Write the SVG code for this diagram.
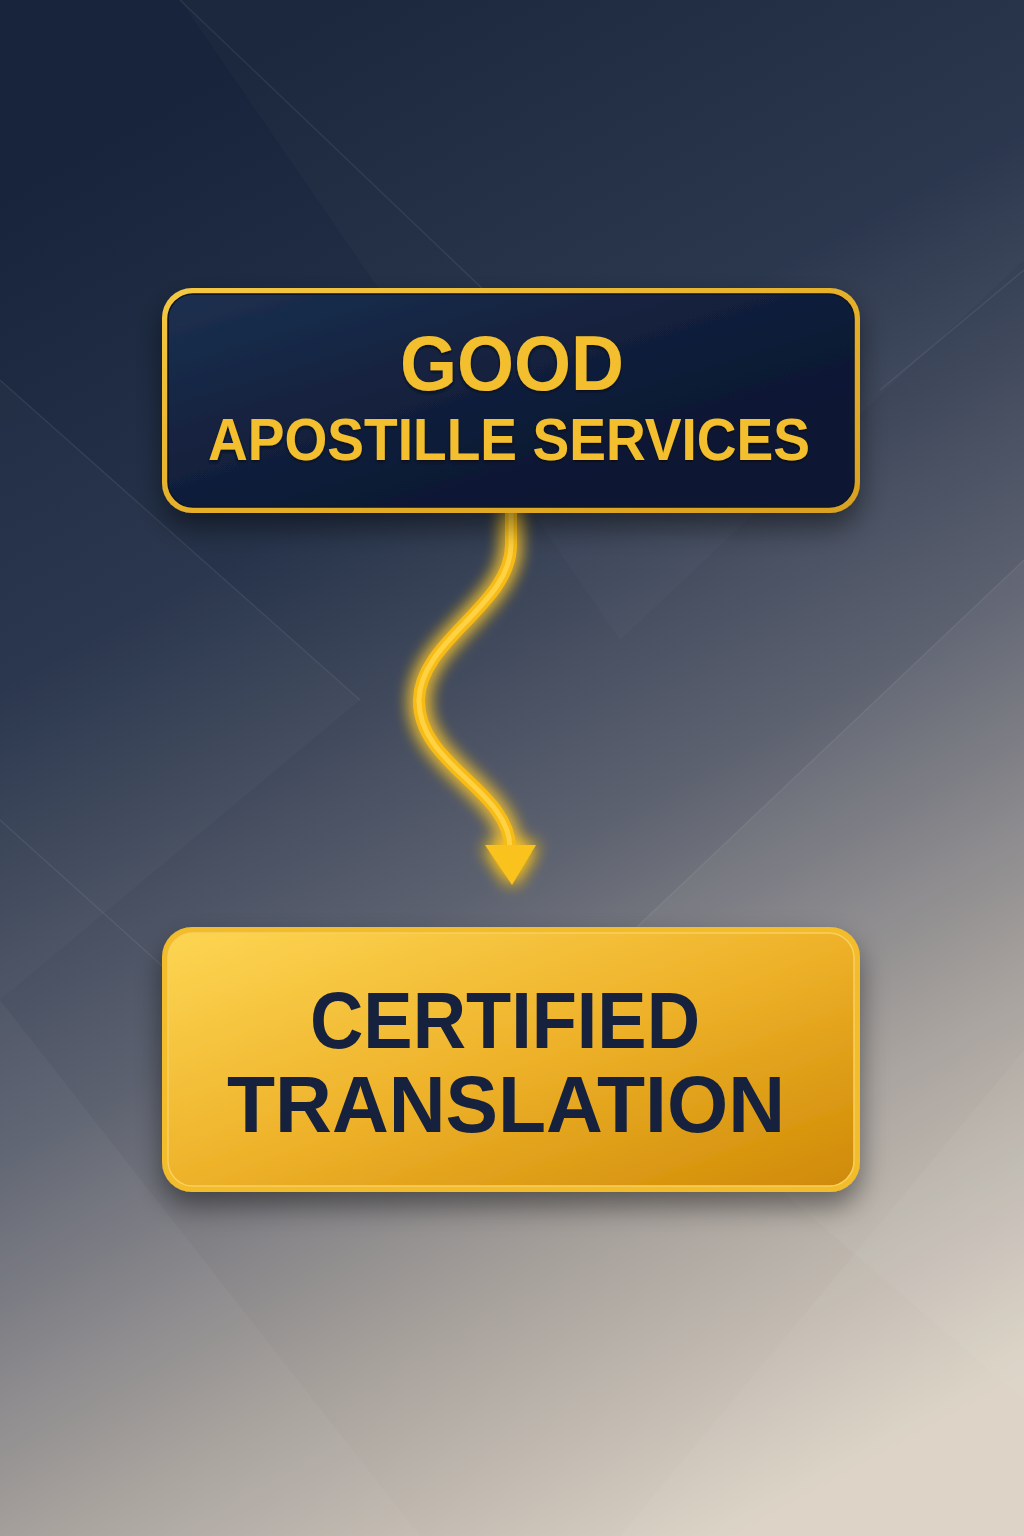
<svg xmlns="http://www.w3.org/2000/svg" width="1024" height="1536" viewBox="0 0 1024 1536">
  <defs>
    <linearGradient id="bg" x1="0.35" y1="0" x2="0.72" y2="1">
      <stop offset="0" stop-color="#17243b"/>
      <stop offset="0.28" stop-color="#26334a"/>
      <stop offset="0.55" stop-color="#5d6270"/>
      <stop offset="0.78" stop-color="#a6a09b"/>
      <stop offset="1" stop-color="#dcd3c5"/>
    </linearGradient>
    <linearGradient id="navyFill" x1="0" y1="0" x2="1" y2="1">
      <stop offset="0" stop-color="#1c304f"/>
      <stop offset="0.6" stop-color="#0e1a35"/>
      <stop offset="1" stop-color="#0a1430"/>
    </linearGradient>
    <linearGradient id="goldBorder" x1="0" y1="0" x2="1" y2="1">
      <stop offset="0" stop-color="#f5c842"/>
      <stop offset="0.5" stop-color="#e6b02a"/>
      <stop offset="1" stop-color="#d9a020"/>
    </linearGradient>
    <linearGradient id="goldFill" x1="0" y1="0" x2="1" y2="1">
      <stop offset="0" stop-color="#fdd552"/>
      <stop offset="0.5" stop-color="#eeb22a"/>
      <stop offset="1" stop-color="#cf8a06"/>
    </linearGradient>
    <filter id="shadow" x="-20%" y="-20%" width="140%" height="150%">
      <feDropShadow dx="0" dy="14" stdDeviation="14" flood-color="#000000" flood-opacity="0.45"/>
    </filter>
    <filter id="glow" x="-60%" y="-20%" width="220%" height="140%">
      <feGaussianBlur in="SourceGraphic" stdDeviation="9" result="b"/>
      <feMerge>
        <feMergeNode in="b"/>
        <feMergeNode in="b"/>
        <feMergeNode in="SourceGraphic"/>
      </feMerge>
    </filter>
    <filter id="textShadow" x="-10%" y="-20%" width="120%" height="150%">
      <feDropShadow dx="0" dy="2" stdDeviation="1.5" flood-color="#000000" flood-opacity="0.5"/>
    </filter>
    <style>
      .title { font-family: "Liberation Sans", Arial, sans-serif; font-weight: bold; text-anchor: middle; }
      .goldText { fill: #f4bf2e; }
      .navyText { fill: #14213d; }
    </style>
  </defs>

  <!-- background -->
  <rect x="0" y="0" width="1024" height="1536" fill="url(#bg)"/>
  <g fill="#ffffff">
    <polygon points="180,0 1024,0 1024,260 620,640" opacity="0.02"/>
    <polygon points="0,380 360,700 0,1000" opacity="0.025"/>
    <polygon points="1024,560 560,1000 1024,1400" opacity="0.045"/>
    <polygon points="0,1000 420,1536 0,1536" opacity="0.035"/>
    <polygon points="1024,1050 620,1536 1024,1536" opacity="0.045"/>
  </g>
  <g stroke="#ffffff" stroke-width="1.5" fill="none" opacity="0.07">
    <line x1="180" y1="0" x2="620" y2="420"/>
    <line x1="0" y1="380" x2="360" y2="700"/>
    <line x1="1024" y1="270" x2="880" y2="390"/>
    <line x1="1024" y1="560" x2="560" y2="1000"/>
    <line x1="0" y1="820" x2="200" y2="1000"/>
  </g>

  <!-- connectors -->
  <g id="connectors">
    <g filter="url(#glow)">
      <path d="M511,513 L511,545 C511,605 420,640 419,700 C418,765 510,790 510,848" fill="none" stroke="#f7bb18" stroke-width="12" stroke-linecap="round"/>
      <path d="M511,513 L511,545 C511,605 420,640 419,700 C418,765 510,790 510,848" fill="none" stroke="#ffd84f" stroke-width="5" stroke-linecap="round" opacity="0.8"/>
      <polygon points="485,845 536,845 512,885" fill="#f9c21e"/>
    </g>
  </g>

  <!-- node: Good Apostille Services -->
  <g id="node-apostille" filter="url(#shadow)">
    <rect x="162" y="288" width="698" height="225" rx="30" ry="30" fill="url(#goldBorder)"/>
    <rect x="168" y="294" width="686" height="213" rx="25" ry="25" fill="url(#navyFill)"/>
    <rect x="168" y="294" width="686" height="213" rx="25" ry="25" fill="none" stroke="#0a1226" stroke-width="1.5"/>
    <g filter="url(#textShadow)">
      <text class="title goldText" x="512" y="390" font-size="77" textLength="224" lengthAdjust="spacingAndGlyphs">GOOD</text>
      <text class="title goldText" x="509" y="460" font-size="60" textLength="602" lengthAdjust="spacingAndGlyphs">APOSTILLE SERVICES</text>
    </g>
  </g>

  <!-- node: Certified Translation -->
  <g id="node-translation" filter="url(#shadow)">
    <rect x="162" y="927" width="698" height="265" rx="30" ry="30" fill="#f2bc2a"/>
    <rect x="168" y="933" width="686" height="253" rx="25" ry="25" fill="url(#goldFill)" stroke="#f9d060" stroke-width="1.5"/>
    <text class="title navyText" x="505" y="1048" font-size="80" textLength="390" lengthAdjust="spacingAndGlyphs">CERTIFIED</text>
    <text class="title navyText" x="506" y="1132" font-size="80" textLength="558" lengthAdjust="spacingAndGlyphs">TRANSLATION</text>
  </g>
</svg>
